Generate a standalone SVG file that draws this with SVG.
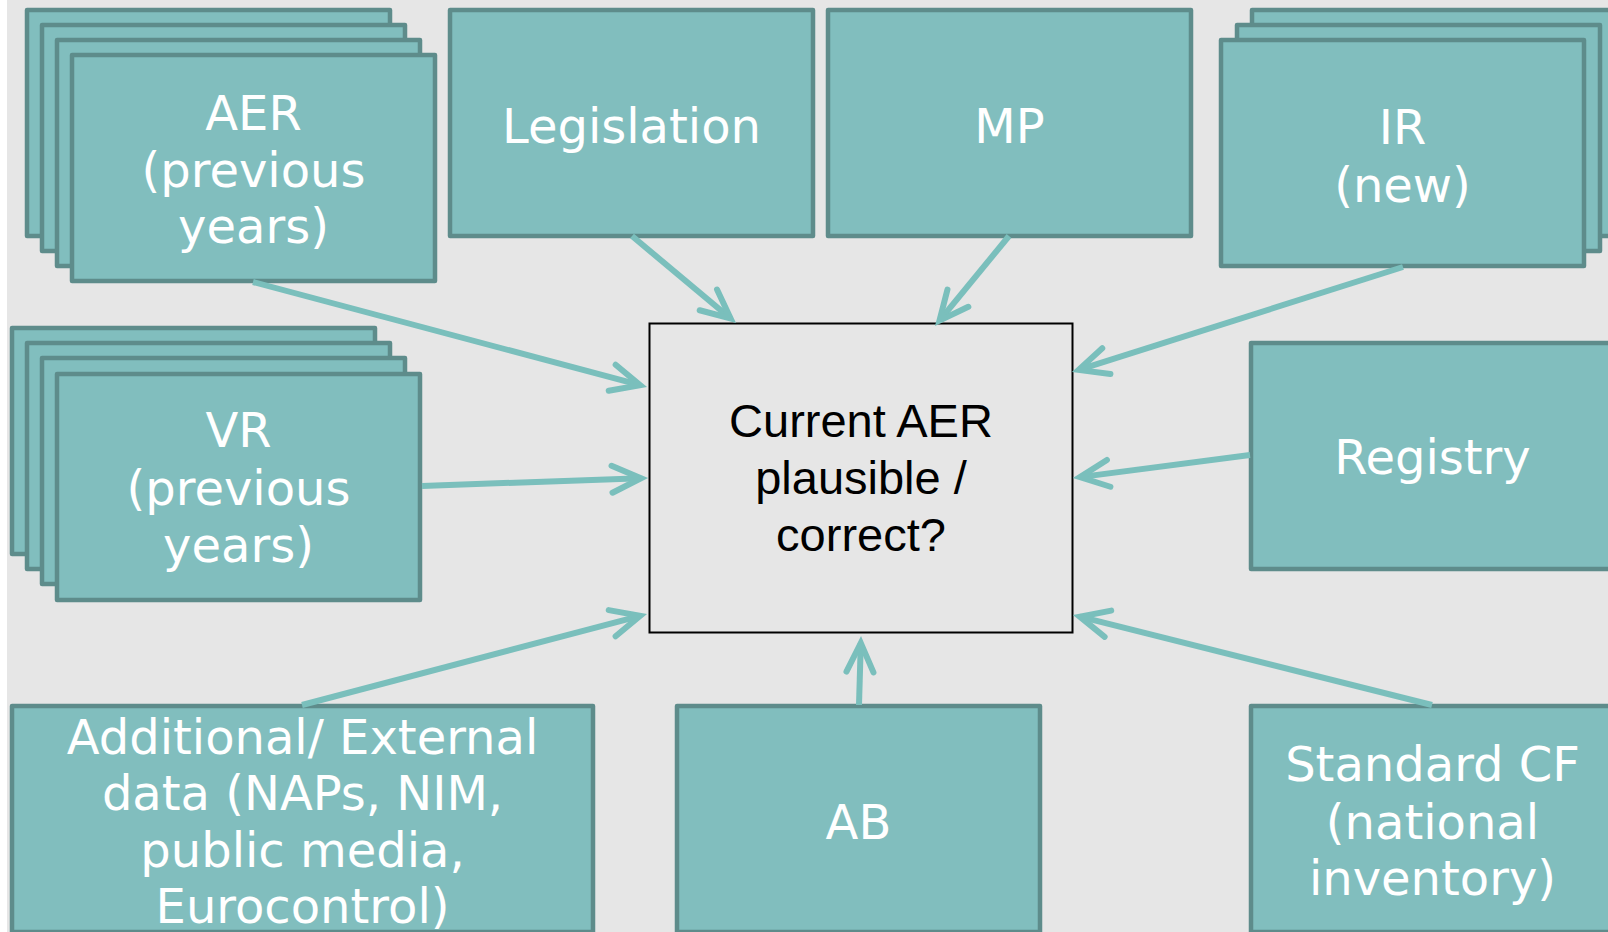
<svg xmlns="http://www.w3.org/2000/svg" width="1608" height="932" viewBox="0 0 1608 932">
<defs>
<style>
.n{fill:#81bebe;stroke:#5e8c8b;stroke-width:4.5;stroke-linejoin:round}
.t{font-family:"DejaVu Sans",Verdana,sans-serif;font-size:48px;fill:#ffffff;text-anchor:middle}
.c{font-family:"Liberation Sans",Arial,sans-serif;font-size:47px;fill:#000000;text-anchor:middle}
.e{stroke:#7abfbc;stroke-width:6;fill:none;stroke-linecap:butt}
</style>
<marker id="ah" markerUnits="userSpaceOnUse" markerWidth="60" markerHeight="60" viewBox="-40 -30 60 60" refX="0" refY="0" orient="auto" overflow="visible">
<path d="M-29,-13.5 L0,0 L-29,13.5" fill="none" stroke="#7abfbc" stroke-width="6" stroke-linecap="round" stroke-linejoin="miter" stroke-miterlimit="6"/>
</marker>
</defs>
<rect x="0" y="0" width="1608" height="932" fill="#ffffff"/>
<rect x="7" y="0" width="1601" height="932" fill="#e6e6e6"/>

<g id="aer">
<rect class="n" x="27" y="10" width="363" height="226"/>
<rect class="n" x="42" y="25" width="363" height="226"/>
<rect class="n" x="57" y="40" width="363" height="226"/>
<rect class="n" x="72" y="55" width="363" height="226"/>
<text class="t" x="253.5" y="130">AER</text>
<text class="t" x="253.5" y="187">(previous</text>
<text class="t" x="253.5" y="243">years)</text>
</g>

<g id="legislation">
<rect class="n" x="450" y="10" width="363" height="226"/>
<text class="t" x="631.5" y="143">Legislation</text>
</g>

<g id="mp">
<rect class="n" x="828" y="10" width="363" height="226"/>
<text class="t" x="1009.5" y="143">MP</text>
</g>

<g id="ir">
<rect class="n" x="1252" y="10" width="363" height="226"/>
<rect class="n" x="1237" y="25" width="363" height="226"/>
<rect class="n" x="1221" y="40" width="363" height="226"/>
<text class="t" x="1402.5" y="144">IR</text>
<text class="t" x="1402.5" y="202">(new)</text>
</g>

<g id="vr">
<rect class="n" x="12" y="328" width="363" height="226"/>
<rect class="n" x="27" y="343" width="363" height="226"/>
<rect class="n" x="42" y="358" width="363" height="226"/>
<rect class="n" x="57" y="374" width="363" height="226"/>
<text class="t" x="238.5" y="447">VR</text>
<text class="t" x="238.5" y="505">(previous</text>
<text class="t" x="238.5" y="562">years)</text>
</g>

<g id="registry">
<rect class="n" x="1251" y="343" width="363" height="226"/>
<text class="t" x="1432.5" y="474">Registry</text>
</g>

<g id="center">
<rect x="649.5" y="323.5" width="423" height="309" fill="#e6e6e6" stroke="#000000" stroke-width="2"/>
<text class="c" x="861" y="437">Current AER</text>
<text class="c" x="861" y="494">plausible /</text>
<text class="c" x="861" y="551">correct?</text>
</g>

<g id="additional">
<rect class="n" x="12" y="706" width="581" height="226"/>
<text class="t" x="302.5" y="754">Additional/ External</text>
<text class="t" x="302.5" y="810">data (NAPs, NIM,</text>
<text class="t" x="302.5" y="867">public media,</text>
<text class="t" x="302.5" y="923">Eurocontrol)</text>
</g>

<g id="ab">
<rect class="n" x="677" y="706" width="363" height="226"/>
<text class="t" x="858.5" y="839">AB</text>
</g>

<g id="standardcf">
<rect class="n" x="1251" y="706" width="363" height="226"/>
<text class="t" x="1432.5" y="781">Standard CF</text>
<text class="t" x="1432.5" y="839">(national</text>
<text class="t" x="1432.5" y="895">inventory)</text>
</g>

<g id="connectors">
<line class="e" x1="253" y1="282" x2="640.2" y2="385.2" marker-end="url(#ah)"/>
<line class="e" x1="422" y1="486" x2="641" y2="478.2" marker-end="url(#ah)"/>
<line class="e" x1="632" y1="236" x2="730.6" y2="318.5" marker-end="url(#ah)"/>
<line class="e" x1="1009" y1="236" x2="939.5" y2="320.6" marker-end="url(#ah)"/>
<line class="e" x1="1403" y1="267" x2="1078.7" y2="369.9" marker-end="url(#ah)"/>
<line class="e" x1="1250" y1="455" x2="1079.9" y2="477.1" marker-end="url(#ah)"/>
<line class="e" x1="1432" y1="705" x2="1079.8" y2="616.7" marker-end="url(#ah)"/>
<line class="e" x1="859" y1="705" x2="860.8" y2="643" marker-end="url(#ah)"/>
<line class="e" x1="302" y1="705" x2="640.2" y2="615.8" marker-end="url(#ah)"/>
</g>
</svg>
